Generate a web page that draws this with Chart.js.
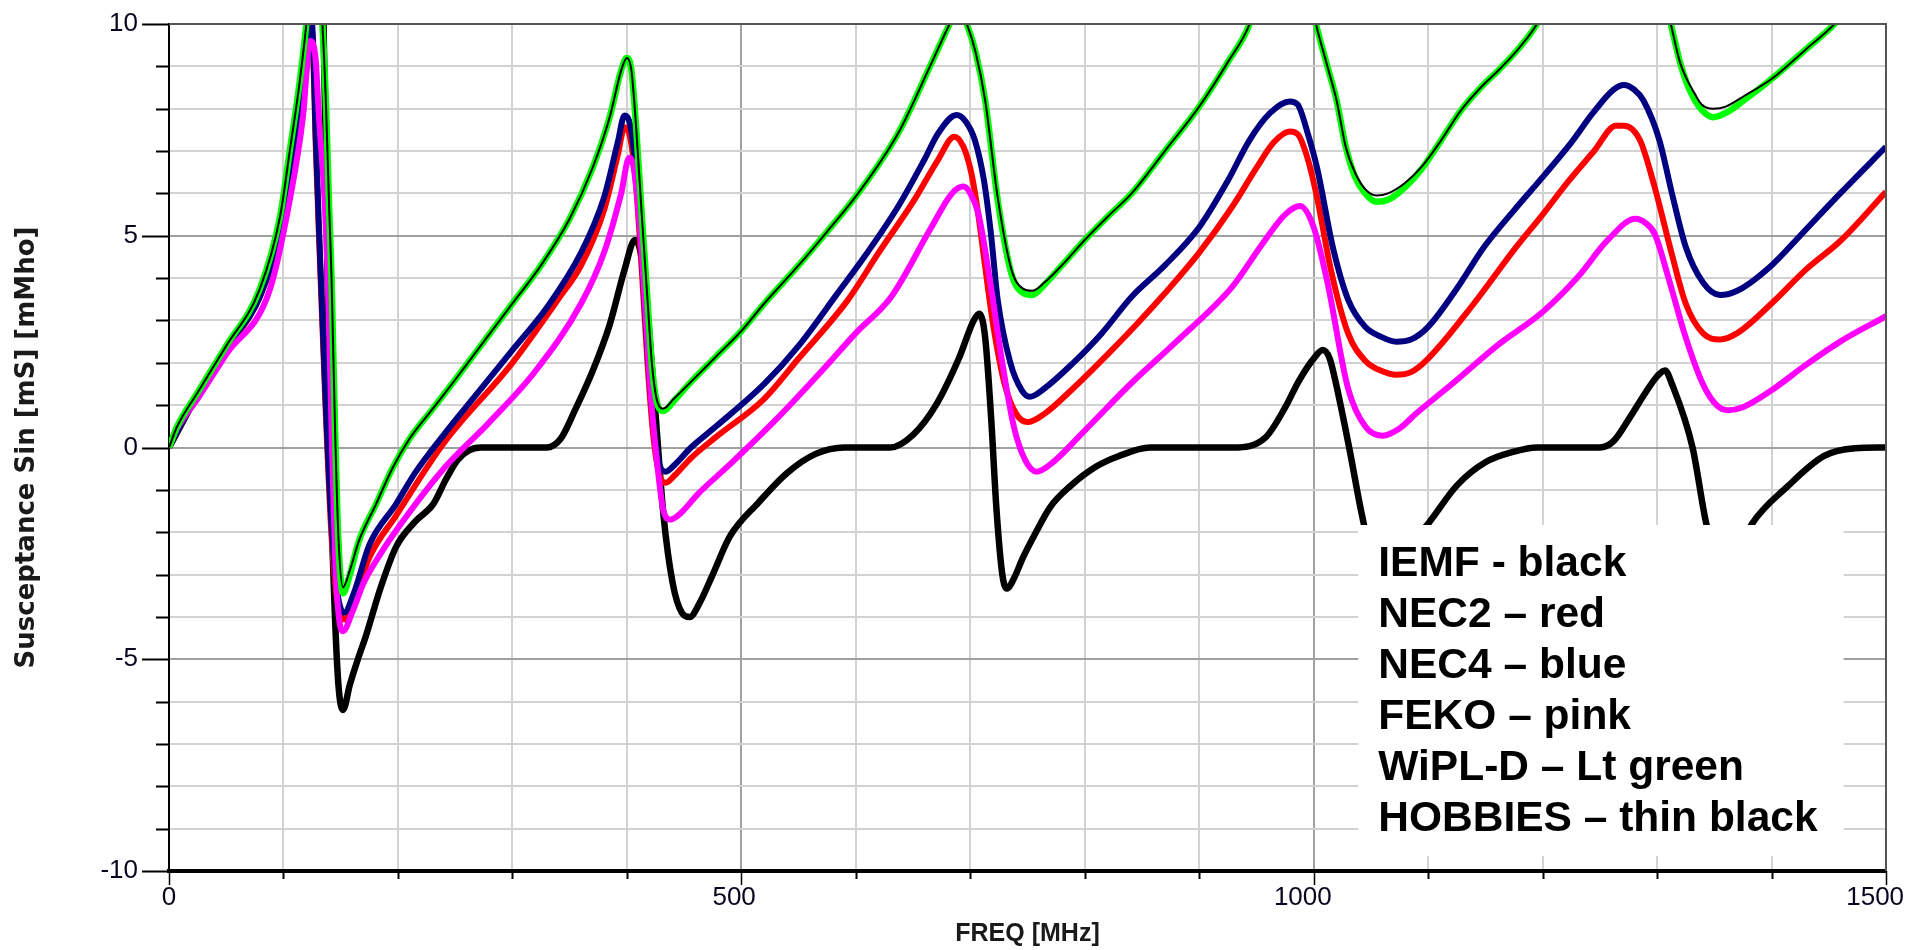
<!DOCTYPE html>
<html>
<head>
<meta charset="utf-8">
<script src="https://cdn.jsdelivr.net/npm/chart.js@4.4.0/dist/chart.umd.min.js"></script>
<style>
  body { margin: 0; background: #fff; }
  #wrap { width: 1907px; height: 950px; }
</style>
</head>
<body>
<div id="wrap"><canvas id="chart0" width="1907" height="950"></canvas></div>
<script>
// [freq MHz, susceptance mS]
var iemf = [[0,0],[25,1.25],[50,2.35],[80,3.65],[100,5.6],[112,7.6],[120,9.4],[125,11],[131,12],[135,10],[137.5,6],[139.5,2],[142,-1.5],[145,-4],[148,-5.6],[152,-6.2],[158,-5.6],[165,-5.0],[172,-4.45],[185,-3.3],[198.5,-2.34],[215,-1.75],[231,-1.33],[242,-0.75],[252,-0.3],[262,-0.07],[272,0],[330,0],[342,0.2],[355,0.9],[370,1.8],[385,2.9],[398,4.2],[407,4.9],[412,4.6],[418,3.2],[425,0.8],[432,-1.6],[440,-3.2],[448,-3.9],[455,-4.0],[463,-3.7],[475,-3.0],[490,-2.1],[515,-1.3],[540,-0.6],[565,-0.15],[590,0],[630,0],[650,0.3],[670,1.0],[690,2.1],[703,3.0],[708,3.16],[713,2.6],[718,0.8],[723,-1.5],[728,-3.0],[732,-3.33],[738,-3.1],[746,-2.6],[756,-2.07],[770,-1.4],[787,-0.92],[810,-0.45],[830,-0.2],[857,0],[930,0],[958,0.24],[975,0.94],[987,1.57],[1000,2.1],[1008,2.3],[1014,2.1],[1019,1.57],[1031,0],[1042,-1.57],[1052,-2.7],[1062,-3.0],[1074,-2.7],[1087,-2.2],[1100,-1.8],[1125,-0.9],[1150,-0.35],[1175,-0.1],[1195,0],[1250,0],[1262,0.15],[1276,0.7],[1290,1.3],[1300,1.68],[1307,1.82],[1313,1.5],[1331,0],[1343,-1.8],[1352,-2.6],[1360,-2.8],[1370,-2.5],[1383,-1.8],[1414,-0.92],[1446,-0.2],[1473,-0.02],[1500,0]];

var nec2 = [[0,0],[25,1.25],[50,2.3],[80,3.6],[100,5.3],[112,7.2],[120,8.9],[124,10.0],[126,9.3],[128,7.3],[132,4.3],[137,0.8],[142,-2.1],[147,-3.6],[153,-4.06],[162,-3.6],[175,-2.6],[198.5,-1.6],[240,0.1],[300,2.0],[340,3.5],[360,4.3],[380,5.6],[392,6.9],[398,7.56],[403,7.3],[408,6.2],[413,4.2],[418,2.0],[423,0.3],[429,-0.7],[434,-0.83],[442,-0.65],[456,-0.25],[478,0.25],[520,1.15],[550,2.1],[593,3.48],[620,4.6],[651,5.84],[672,6.8],[686,7.34],[694,7.1],[701,6.47],[707,5.5],[713,4.27],[720,2.9],[730,1.5],[740,0.8],[750,0.6],[765,0.8],[790,1.4],[820,2.2],[845,2.9],[870,3.64],[900,4.6],[929,5.69],[950,6.6],[965,7.2],[979,7.46],[986,7.4],[995,6.8],[1003,5.9],[1015,4.2],[1030,2.7],[1045,2.05],[1060,1.8],[1072,1.72],[1085,1.78],[1100,2.1],[1140,3.4],[1176,4.7],[1200,5.5],[1223,6.3],[1245,7.0],[1264,7.6],[1271,7.6],[1285,7.26],[1298,6.14],[1312,4.66],[1325,3.4],[1340,2.7],[1355,2.55],[1370,2.7],[1400,3.4],[1430,4.2],[1461,4.9],[1500,6.04]];

var nec4 = [[0,0],[25,1.25],[50,2.35],[80,3.6],[100,5.4],[112,7.3],[120,9.0],[124,10.2],[126,9.5],[128,7.5],[132,4.5],[137,1],[142,-1.8],[147,-3.4],[153,-3.9],[162,-3.4],[175,-2.3],[198.5,-1.33],[215,-0.6],[240,0.3],[270,1.3],[300,2.3],[330,3.3],[360,4.6],[380,5.9],[392,7.2],[398,7.84],[403,7.6],[408,6.5],[413,4.5],[418,2.3],[423,0.6],[429,-0.45],[434,-0.57],[442,-0.4],[456,0.0],[478,0.5],[520,1.5],[550,2.4],[584,3.64],[610,4.6],[637,5.69],[660,6.8],[672,7.42],[688,7.85],[696,7.7],[704,7.26],[712,6.3],[718,5.06],[724,3.48],[735,2.0],[745,1.35],[752,1.2],[765,1.4],[790,2.0],[815,2.7],[841,3.56],[870,4.3],[900,5.2],[925,6.3],[944,7.26],[962,7.9],[979,8.17],[986,8.1],[995,7.4],[1003,6.6],[1017,4.7],[1030,3.5],[1045,2.85],[1060,2.6],[1072,2.5],[1085,2.55],[1100,2.85],[1125,3.75],[1149,4.74],[1175,5.6],[1203,6.48],[1225,7.2],[1244,7.9],[1262,8.45],[1271,8.56],[1280,8.45],[1288,8.2],[1302,7.26],[1313,6.0],[1325,4.74],[1340,3.9],[1355,3.6],[1370,3.7],[1400,4.3],[1427,5.06],[1460,6.0],[1500,7.1]];

var feko = [[0,0],[7,0.45],[25,1.15],[50,2.2],[88,3.72],[105.5,5.84],[117,7.8],[123.3,9.6],[128,9.2],[131,7.8],[136,5.8],[139,3.7],[142,0.5],[145,-2.5],[148,-3.9],[152,-4.34],[160,-3.9],[170,-3.2],[185,-2.5],[200,-1.9],[240,-0.5],[280,0.6],[320,1.8],[360,3.4],[380,4.6],[395,6.0],[402,6.84],[406,6.6],[411,5.3],[416,3.3],[421,1.2],[427,-0.5],[432,-1.5],[438,-1.7],[447,-1.55],[462,-1.1],[490,-0.4],[530,0.65],[570,1.8],[600,2.7],[631,3.56],[666,5.2],[684,6.0],[694,6.16],[700,6.0],[707,5.53],[718,3.8],[728,2.0],[738,0.5],[748,-0.3],[758,-0.57],[770,-0.4],[800,0.4],[840,1.5],[880,2.5],[929,3.8],[955,4.8],[975,5.5],[988,5.7],[1000,5.2],[1012,3.9],[1030,1.4],[1045,0.5],[1060,0.28],[1075,0.45],[1089,0.79],[1124,1.57],[1160,2.4],[1200,3.2],[1230,4.0],[1257,4.9],[1281,5.4],[1290,5.3],[1298,5.04],[1310,4.0],[1325,2.6],[1340,1.5],[1352,1.0],[1362,0.88],[1375,0.95],[1400,1.35],[1430,1.95],[1460,2.5],[1500,3.1]];

var wipld = [[0,0],[7,0.49],[25,1.3],[50,2.4],[79,3.72],[97,5.45],[105.5,7.0],[114,8.6],[120,10],[125,11.5],[130,11.5],[134,10],[137,8.2],[140,5.6],[142,4.0],[145,0.5],[148,-2.2],[152,-3.44],[158,-3.0],[166,-2.2],[181,-1.33],[195,-0.5],[210,0.2],[230,0.9],[250,1.6],[275,2.5],[300,3.4],[325,4.3],[350,5.4],[370,6.6],[385,7.8],[395,8.9],[400,9.2],[404,8.9],[408,7.6],[413,5.5],[418,3.5],[422,1.9],[427,1.0],[432,0.86],[441,1.1],[456,1.55],[478,2.15],[500,2.75],[520,3.4],[549,4.27],[575,5.1],[602,6.0],[637,7.42],[666,9.07],[682,10],[690,10.4],[697,10],[705,9.3],[713,8.2],[724,5.84],[736,4.1],[746,3.65],[754,3.6],[765,3.85],[780,4.3],[800,4.9],[820,5.45],[841,6.0],[870,7.0],[900,8.05],[925,9.1],[944,10],[960,11.5],[975,12.2],[990,11.5],[1002,10],[1012,9.0],[1020,8.2],[1028,7.1],[1036,6.4],[1045,6.0],[1055,5.8],[1065,5.85],[1080,6.15],[1095,6.6],[1110,7.2],[1129,7.97],[1146,8.5],[1163,8.95],[1180,9.45],[1195,10],[1230,12],[1260,13],[1290,12.5],[1312,10],[1320,9.1],[1326,8.6],[1333,8.2],[1339,7.97],[1349,7.8],[1360,7.9],[1376,8.2],[1400,8.7],[1430,9.4],[1455,10],[1480,10.8],[1500,11.5]];

var hobbies = [[0,0],[7,0.49],[25,1.3],[50,2.4],[79,3.72],[97,5.45],[105.5,7.0],[114,8.6],[120,10],[125,11.5],[130,11.5],[134,10],[137,8.2],[140,5.6],[142,4.0],[145,0.5],[148,-2.1],[152,-3.3],[158,-2.9],[166,-2.2],[181,-1.33],[195,-0.5],[210,0.2],[230,0.9],[250,1.6],[275,2.5],[300,3.4],[325,4.3],[350,5.4],[370,6.6],[385,7.8],[395,8.9],[400,9.2],[404,8.9],[408,7.6],[413,5.5],[418,3.5],[422,1.95],[427,1.05],[432,0.92],[441,1.15],[456,1.55],[478,2.15],[500,2.75],[520,3.4],[549,4.27],[575,5.1],[602,6.0],[637,7.42],[666,9.07],[682,10],[690,10.4],[697,10],[705,9.3],[713,8.2],[724,5.9],[736,4.2],[746,3.75],[754,3.7],[765,3.9],[780,4.3],[800,4.9],[820,5.45],[841,6.0],[870,7.0],[900,8.05],[925,9.1],[944,10],[960,11.5],[975,12.2],[990,11.5],[1002,10],[1012,9.0],[1020,8.2],[1028,7.1],[1036,6.5],[1045,6.1],[1055,5.95],[1065,6.0],[1080,6.25],[1095,6.65],[1110,7.2],[1129,7.97],[1146,8.5],[1163,8.95],[1180,9.45],[1195,10],[1230,12],[1260,13],[1290,12.5],[1312,10],[1320,9.1],[1326,8.7],[1333,8.35],[1339,8.1],[1349,8.0],[1360,8.05],[1376,8.3],[1400,8.7],[1430,9.4],[1455,10],[1480,10.8],[1500,11.5]];

var legendLines = ['IEMF - black', 'NEC2 \u2013 red', 'NEC4 \u2013 blue', 'FEKO \u2013 pink', 'WiPL-D \u2013 Lt green', 'HOBBIES \u2013 thin black'];

var xTitle = 'FREQ [MHz]';
var yTitle = 'Susceptance Sin [mS] [mMho]';

function pts(arr) {
    return arr.map(function (p) { return {x: p[0], y: p[1]}; });
}

function series(label, arr, color, width, order) {
    return {
        label: label,
        data: pts(arr),
        borderColor: color,
        backgroundColor: color,
        borderWidth: width,
        pointRadius: 0,
        fill: false,
        cubicInterpolationMode: 'monotone',
        clip: 0,
        order: order
    };
}

var labelColor = '#06061e';

// ticks, frame and the text box, drawn with the chart's own scales
var decor = {
    id: 'decor',
    afterDatasetsDraw: function (chart) {
        var ctx = chart.ctx, x = chart.scales.x, y = chart.scales.y;
        var bx = x.getPixelForValue(1039), by = y.getPixelForValue(-1.83);
        var bw = x.getPixelForValue(1463) - bx, bh = y.getPixelForValue(-9.65) - by;
        ctx.save();
        ctx.fillStyle = '#ffffff';
        ctx.fillRect(bx, by, bw, bh);
        ctx.fillStyle = '#000000';
        ctx.font = 'bold 42.5px "Liberation Sans", Arial, sans-serif';
        ctx.textBaseline = 'alphabetic';
        legendLines.forEach(function (t, i) {
            ctx.fillText(t, bx + 20, by + 51 + i * 51);
        });
        ctx.restore();
    },
    afterDraw: function (chart) {
        var ctx = chart.ctx, a = chart.chartArea, x = chart.scales.x, y = chart.scales.y;
        ctx.save();
        // top and right frame
        ctx.strokeStyle = '#555555';
        ctx.lineWidth = 2;
        ctx.beginPath();
        ctx.moveTo(a.left, a.top);
        ctx.lineTo(a.right, a.top);
        ctx.lineTo(a.right, a.bottom);
        ctx.stroke();
        // y tick marks
        ctx.strokeStyle = '#000000';
        ctx.lineWidth = 2;
        for (var v = -10; v <= 10; v++) {
            var py = Math.round(y.getPixelForValue(v)) + 0.5;
            var len = (v % 5 === 0) ? 27 : 13;
            ctx.beginPath();
            ctx.moveTo(a.left - len, py);
            ctx.lineTo(a.left, py);
            ctx.stroke();
        }
        // x tick marks
        for (var f = 0; f <= 1500; f += 100) {
            var px = Math.round(x.getPixelForValue(f)) + 0.5;
            var l2 = (f % 500 === 0) ? 14 : 8;
            ctx.lineWidth = (f % 500 === 0) ? 1.5 : 2;
            ctx.beginPath();
            ctx.moveTo(px, a.bottom);
            ctx.lineTo(px, a.bottom + l2);
            ctx.stroke();
        }
        ctx.restore();
    }
};

var ctx0 = document.getElementById('chart0').getContext('2d');

var chart = new Chart(ctx0, {
    type: 'line',
    data: {
        datasets: [
            series('IEMF', iemf, '#000000', 6.5, 5),
            series('NEC2', nec2, '#ff0000', 6, 4),
            series('NEC4', nec4, '#000080', 6, 3),
            series('FEKO', feko, '#ff00ff', 6, 2),
            series('WiPL-D', wipld, '#00ff00', 6.5, 1),
            series('HOBBIES', hobbies, '#000000', 2, 0)
        ]
    },
    options: {
        responsive: false,
        animation: false,
        events: [],
        layout: {
            autoPadding: false,
            padding: {left: 0, top: 24, right: 21, bottom: 0}
        },
        plugins: {
            legend: {display: false},
            tooltip: {enabled: false}
        },
        scales: {
            x: {
                type: 'linear',
                min: 0,
                max: 1500,
                afterFit: function (s) {
                    s.height = 79;
                    s.paddingLeft = 0;
                    s.paddingRight = 0;
                },
                border: {display: true, color: '#000000', width: 4},
                grid: {
                    drawTicks: false,
                    lineWidth: 2,
                    color: function (c) {
                        return (c.tick && c.tick.value % 500 === 0) ? '#a0a0a0' : '#d2d2d2';
                    }
                },
                ticks: {
                    stepSize: 100,
                    autoSkip: false,
                    maxRotation: 0,
                    padding: 11,
                    color: labelColor,
                    font: {family: '"Liberation Sans", Arial, sans-serif', size: 26},
                    // the source nudges the wider labels a little to the left
                    callback: function (v) {
                        if (v % 500 !== 0) return '';
                        return v === 0 ? '0' : (v < 1000 ? v + '  ' : v + '   ');
                    }
                },
                title: {
                    display: true,
                    text: xTitle,
                    color: '#1a1a1a',
                    padding: {top: 0, bottom: 1},
                    font: {family: '"Liberation Sans", Arial, sans-serif', size: 25, weight: 'bold'}
                }
            },
            y: {
                type: 'linear',
                min: -10,
                max: 10,
                afterFit: function (s) {
                    s.width = 169;
                    s.paddingTop = 0;
                    s.paddingBottom = 0;
                },
                border: {display: true, color: '#000000', width: 2},
                grid: {
                    drawTicks: false,
                    lineWidth: 2,
                    color: function (c) {
                        return (c.tick && c.tick.value % 5 === 0) ? '#a0a0a0' : '#d2d2d2';
                    }
                },
                ticks: {
                    stepSize: 1,
                    autoSkip: false,
                    padding: 31,
                    color: labelColor,
                    font: {family: '"Liberation Sans", Arial, sans-serif', size: 26},
                    callback: function (v) { return v % 5 === 0 ? String(v) : ''; }
                },
                title: {
                    display: true,
                    text: yTitle,
                    color: '#1a1a1a',
                    padding: {top: 12, bottom: 0},
                    font: {family: '"DejaVu Sans", sans-serif', size: 26, weight: 'bold'}
                }
            }
        }
    },
    plugins: [decor]
});
</script>
</body>
</html>
